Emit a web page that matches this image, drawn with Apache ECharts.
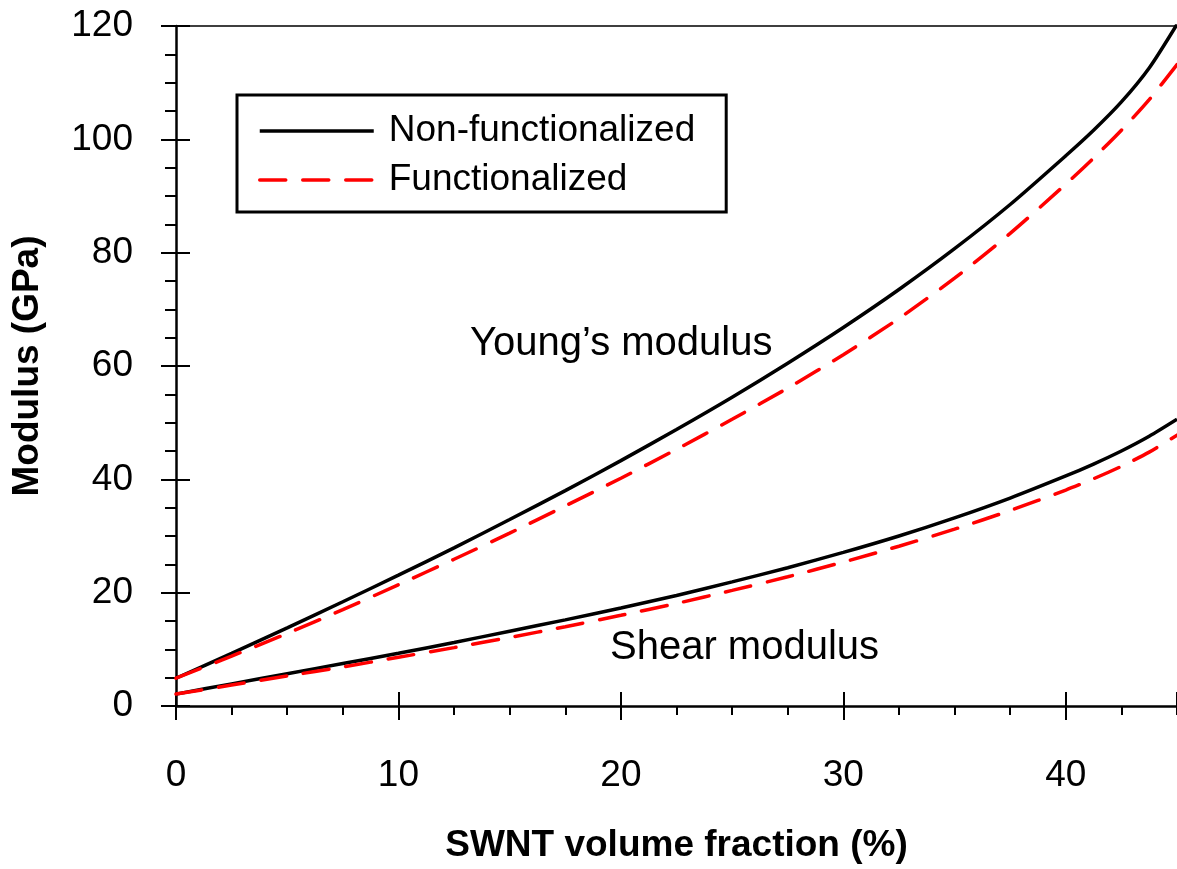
<!DOCTYPE html>
<html>
<head>
<meta charset="utf-8">
<script src="https://cdn.jsdelivr.net/npm/echarts@6/dist/echarts.min.js"></script>
<style>
html,body{margin:0;padding:0;background:#fff;}
#c{width:1177px;height:869px;}
</style>
</head>
<body>
<div id="c"></div>
<script>
// SWNT volume fraction (%)
const fraction = [0, 2.5, 5, 7.5, 10, 12.5, 15, 17.5, 20, 22.5, 25, 27.5, 30, 32.5, 35, 37.5, 40, 41.25, 42.5, 43.75, 45];
// Young's modulus (GPa)
const youngNonFunc = [4.9, 9.3, 13.8, 18.4, 23.1, 27.9, 32.9, 38.0, 43.3, 48.8, 54.5, 60.5, 66.8, 73.5, 80.7, 88.5, 97.1, 101.6, 106.6, 112.6, 120.3];
const youngFunc    = [4.9, 8.8, 12.8, 17.0, 21.4, 25.9, 30.5, 35.3, 40.2, 45.3, 50.6, 56.1, 62.0, 68.4, 75.5, 83.4, 92.1, 96.7, 101.6, 107.0, 113.2];
// Shear modulus (GPa)
const shearNonFunc = [2.1, 3.9, 5.7, 7.5, 9.3, 11.2, 13.2, 15.2, 17.3, 19.5, 21.9, 24.4, 27.1, 30.0, 33.2, 36.7, 40.6, 42.7, 45.0, 47.6, 50.6];
const shearFunc    = [2.1, 3.7, 5.3, 6.9, 8.6, 10.3, 12.1, 14.0, 16.0, 18.1, 20.4, 22.8, 25.4, 28.2, 31.2, 34.5, 38.1, 40.1, 42.3, 44.8, 47.8];

const legendNames = ['Non-functionalized', 'Functionalized'];
const xTitle = 'SWNT volume fraction (%)';
const yTitle = 'Modulus (GPa)';
const annotYoung = 'Young\u2019s modulus';
const annotShear = 'Shear modulus';

const FONT = 'Liberation Sans';
const pairs = ys => fraction.map((x, i) => [x, ys[i]]);

const xBase = {type: 'value', min: 0, max: 45, splitLine: {show: false}, gridIndex: 0};
const yBase = {type: 'value', min: 0, max: 120, splitLine: {show: false}, gridIndex: 0};
const blk = {color: '#000'};

const chart = echarts.init(document.getElementById('c'), null, {renderer: 'canvas'});
chart.setOption({
  backgroundColor: '#fff',
  animation: false,
  grid: {left: 176, top: 26, right: -3, bottom: 160, containLabel: false},
  legend: {
    data: legendNames,
    orient: 'vertical',
    left: 237, top: 95,
    padding: [16, 31, 12, 21],
    itemGap: 9,
    itemWidth: 114, itemHeight: 14,
    borderColor: '#000', borderWidth: 3,
    backgroundColor: '#fff',
    itemStyle: {opacity: 0},
    lineStyle: {width: 3.5},
    textStyle: {fontFamily: FONT, fontSize: 37, color: '#000', lineHeight: 40, padding: [0, 0, 0, 10]}
  },
  xAxis: [
    Object.assign({}, xBase, {
      position: 'bottom', interval: 10,
      axisLine: {show: true, onZero: false, lineStyle: {color: '#000', width: 2.5}},
      axisTick: {show: true, inside: false, length: 14, lineStyle: {color: '#000', width: 2}},
      axisLabel: {show: true, fontFamily: FONT, fontSize: 37, color: '#000', margin: 51, showMaxLabel: false},
      name: xTitle, nameLocation: 'middle', nameGap: 121,
      nameTextStyle: {fontFamily: FONT, fontSize: 37, fontWeight: 'bold', color: '#000'}
    }),
    Object.assign({}, xBase, {
      position: 'bottom', interval: 2.5,
      axisLine: {show: false, onZero: false},
      axisTick: {show: true, inside: false, length: 9, lineStyle: {color: '#000', width: 2}},
      axisLabel: {show: false}
    }),
    Object.assign({}, xBase, {
      position: 'bottom', interval: 10,
      axisLine: {show: false, onZero: false},
      axisTick: {show: true, inside: true, length: 14, lineStyle: {color: '#000', width: 2}},
      axisLabel: {show: false}
    }),
    Object.assign({}, xBase, {
      position: 'top',
      axisLine: {show: true, onZero: false, lineStyle: {color: '#000', width: 1.5}},
      axisTick: {show: false},
      axisLabel: {show: false}
    })
  ],
  yAxis: [
    Object.assign({}, yBase, {
      position: 'left', interval: 20,
      axisLine: {show: true, onZero: false, lineStyle: {color: '#000', width: 2.5}},
      axisTick: {show: true, inside: false, length: 15, lineStyle: {color: '#000', width: 2}},
      axisLabel: {show: true, fontFamily: FONT, fontSize: 37, color: '#000', margin: 43},
      name: yTitle, nameLocation: 'middle', nameGap: 130,
      nameTextStyle: {fontFamily: FONT, fontSize: 37, fontWeight: 'bold', color: '#000'}
    }),
    Object.assign({}, yBase, {
      position: 'left', interval: 5,
      axisLine: {show: false, onZero: false},
      axisTick: {show: true, inside: false, length: 11, lineStyle: {color: '#000', width: 2}},
      axisLabel: {show: false}
    }),
    Object.assign({}, yBase, {
      position: 'left', interval: 20,
      axisLine: {show: false, onZero: false},
      axisTick: {show: true, inside: true, length: 14, lineStyle: {color: '#000', width: 2}},
      axisLabel: {show: false}
    })
  ],
  series: [
    {name: legendNames[0], type: 'line', xAxisIndex: 0, yAxisIndex: 0, data: pairs(youngNonFunc),
     symbol: 'none', smooth: 0.25, lineStyle: {color: '#000', width: 3.5}, itemStyle: blk},
    {name: legendNames[1], type: 'line', xAxisIndex: 0, yAxisIndex: 0, data: pairs(youngFunc),
     symbol: 'none', smooth: 0.25, lineStyle: {color: '#ff0000', width: 3.5, type: [26, 17], cap: 'round'}, itemStyle: {color: '#ff0000'}},
    {name: legendNames[0], type: 'line', xAxisIndex: 0, yAxisIndex: 0, data: pairs(shearNonFunc),
     symbol: 'none', smooth: 0.25, lineStyle: {color: '#000', width: 3.5}, itemStyle: blk},
    {name: legendNames[1], type: 'line', xAxisIndex: 0, yAxisIndex: 0, data: pairs(shearFunc),
     symbol: 'none', smooth: 0.25, lineStyle: {color: '#ff0000', width: 3.5, type: [26, 17], cap: 'round'}, itemStyle: {color: '#ff0000'}}
  ],
  graphic: [
    {type: 'text', left: 470, top: 324, style: {text: annotYoung, fontFamily: FONT, fontSize: 40, fill: '#000'}},
    {type: 'text', left: 610, top: 628, style: {text: annotShear, fontFamily: FONT, fontSize: 40, fill: '#000'}}
  ]
});
</script>
</body>
</html>
